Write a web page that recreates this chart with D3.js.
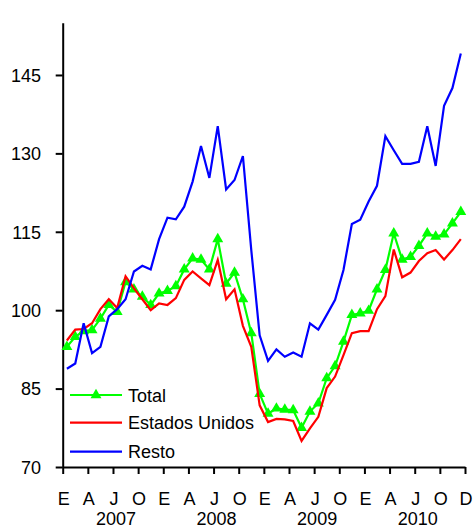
<!DOCTYPE html>
<html>
<head>
<meta charset="utf-8">
<script src="https://cdn.jsdelivr.net/npm/d3@7"></script>
<style>
  body { margin: 0; background: #fff; }
  svg text { font-family: "Liberation Sans", Arial, sans-serif; font-size: 18px; fill: #000; }
</style>
</head>
<body>
<div id="vis"></div>
<script>
// monthly index, E 2007 .. D 2010
const total = [93.0, 94.9, 96.0, 96.2, 98.4, 101.0, 99.7, 105.4, 104.0, 102.6, 101.0, 103.2,
  103.7, 104.6, 107.8, 109.9, 109.7, 107.8, 113.6, 105.1, 107.2, 102.1, 95.6, 84.0,
  80.2, 81.2, 81.0, 80.9, 77.5, 80.6, 82.2, 87.0, 89.3, 94.0, 99.1, 99.4,
  99.9, 104.0, 107.7, 114.7, 109.7, 110.2, 112.3, 114.7, 114.1, 114.5, 116.6, 118.8];
const estadosUnidos = [94.2, 96.3, 96.4, 97.5, 100.2, 102.1, 100.4, 106.5, 104.2, 102.1, 100.0, 101.3,
  101.0, 102.3, 105.8, 107.4, 106.1, 104.8, 109.6, 102.1, 104.0, 97.0, 93.0, 81.8,
  78.6, 79.2, 79.1, 78.8, 75.0, 77.4, 79.6, 85.1, 87.3, 91.4, 95.6, 96.0,
  96.0, 100.2, 102.7, 111.6, 106.3, 107.2, 109.4, 110.9, 111.5, 109.7, 111.5, 113.6];
const resto = [88.8, 89.8, 97.5, 91.8, 93.0, 98.8, 100.2, 102.1, 107.4, 108.5, 107.8, 113.6,
  117.7, 117.4, 119.8, 124.6, 131.4, 125.3, 135.2, 123.1, 124.9, 129.5, 111.5, 95.2,
  90.3, 92.5, 91.1, 91.9, 91.1, 97.5, 96.3, 99.1, 102.0, 107.7, 116.5, 117.3,
  120.8, 123.8, 133.3, 130.6, 128.0, 128.0, 128.4, 135.2, 127.6, 139.1, 142.5, 149.1];

const monthLabels = ["E", "A", "J", "O", "E", "A", "J", "O", "E", "A", "J", "O", "E", "A", "J", "O", "D"];
const years = ["2007", "2008", "2009", "2010"];
const yTicks = [70, 85, 100, 115, 130, 145];

const seriesNames = ["Total", "Estados Unidos", "Resto"];
const seriesColors = ["#00ff00", "#ff0000", "#0000ff"];

var W = 476, H = 529;
var margin = {top: 22.7, right: 11, bottom: 62, left: 62.7};

var svg = d3.select("#vis").append("svg")
    .attr("width", W)
    .attr("height", H);

var nMonths = total.length;

// category scale: one slot per month, points at slot centres
var x = d3.scaleLinear()
    .domain([0, nMonths])
    .range([margin.left, W - margin.right]);

var y = d3.scaleLinear()
    .domain([70, 155])
    .range([H - margin.bottom, margin.top]);

// Y AXIS
var yAxis = svg.append("g")
    .attr("transform", "translate(" + margin.left + ",0)")
    .call(d3.axisLeft(y).tickValues(yTicks).tickSize(7).tickSizeOuter(0).tickPadding(14.7));
yAxis.select(".domain").attr("stroke", "#000").attr("stroke-width", 2);
yAxis.selectAll(".tick line").attr("stroke", "#000").attr("stroke-width", 2);
yAxis.selectAll("text").attr("font-size", 18).attr("font-family", null).attr("dy", "0.35em");

// X AXIS (ticks every 3 months)
var xTickVals = d3.range(0, nMonths + 1, 3);
var xAxis = svg.append("g")
    .attr("transform", "translate(0," + (H - margin.bottom) + ")")
    .call(d3.axisBottom(x).tickValues(xTickVals).tickSize(7).tickSizeOuter(0).tickFormat(""));
xAxis.select(".domain").attr("stroke", "#000").attr("stroke-width", 2);
xAxis.selectAll(".tick line").attr("stroke", "#000").attr("stroke-width", 2);

// month letters
svg.append("g").selectAll("text")
  .data(monthLabels)
  .enter().append("text")
    .attr("x", function(d, i) { return x(xTickVals[i]) + 1; })
    .attr("y", 504.5)
    .attr("text-anchor", "middle")
    .text(function(d) { return d; });

// years under each block of 12 months
svg.append("g").selectAll("text")
  .data(years)
  .enter().append("text")
    .attr("x", function(d, i) { return x(i * 12 + 6) + 3; })
    .attr("y", 525)
    .attr("text-anchor", "middle")
    .text(function(d) { return d; });

// LINES
var line = d3.line()
    .x(function(d, i) { return x(i + 0.5); })
    .y(function(d) { return y(d); });

var data = [total, estadosUnidos, resto];
var plot = svg.append("g");

data.forEach(function(s, k) {
  plot.append("path")
      .datum(s)
      .attr("d", line)
      .attr("fill", "none")
      .attr("stroke", seriesColors[k])
      .attr("stroke-width", 2.2)
      .attr("stroke-linejoin", "miter");
  if (k === 0) {
    plot.selectAll(".tri")
      .data(s)
      .enter().append("path")
        .attr("class", "tri")
        .attr("d", d3.symbol().type(d3.symbolTriangle).size(52))
        .attr("transform", function(d, i) { return "translate(" + x(i + 0.5) + "," + y(d) + ")"; })
        .attr("fill", seriesColors[0]);
  }
});

// LEGEND
var legendY = [395, 422.7, 451.7];
var legend = svg.append("g");
seriesNames.forEach(function(name, k) {
  legend.append("line")
      .attr("x1", 70).attr("x2", 122)
      .attr("y1", legendY[k]).attr("y2", legendY[k])
      .attr("stroke", seriesColors[k])
      .attr("stroke-width", 2.2);
  if (k === 0) {
    legend.append("path")
        .attr("d", d3.symbol().type(d3.symbolTriangle).size(52))
        .attr("transform", "translate(96," + legendY[k] + ")")
        .attr("fill", seriesColors[0]);
  }
  legend.append("text")
      .attr("x", 128)
      .attr("y", legendY[k] + 6.5)
      .text(name);
});
</script>
</body>
</html>
